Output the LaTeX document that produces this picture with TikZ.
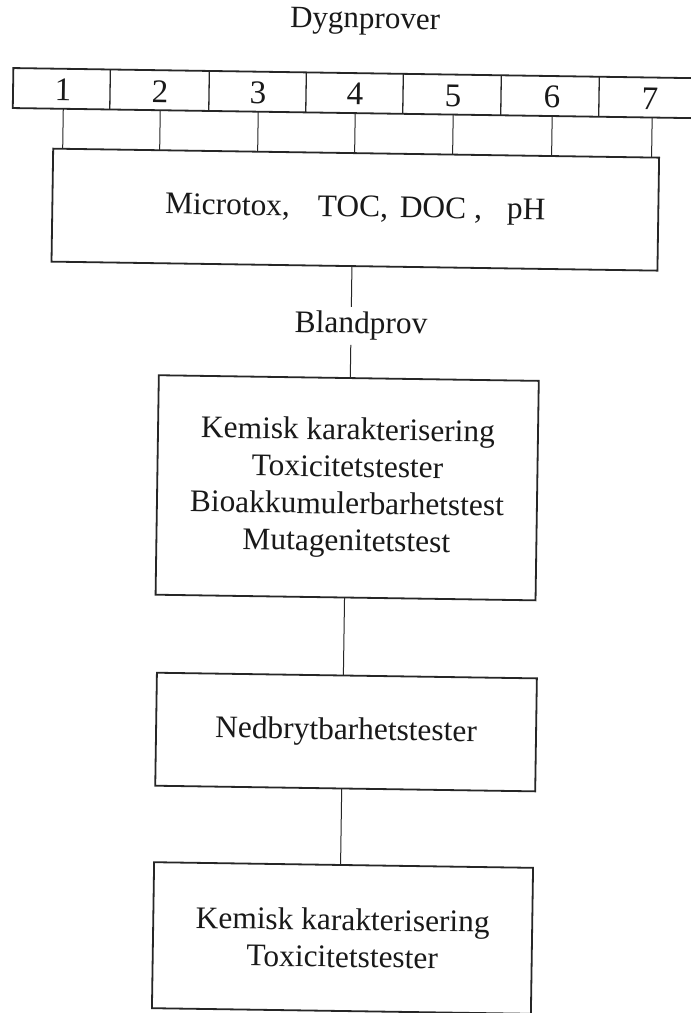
\documentclass[tikz,border=0pt]{standalone}
\usepackage{fontspec}
\setmainfont{Liberation Serif}
\usetikzlibrary{calc}
\begin{document}
\begin{tikzpicture}[x=1pt,y=-1pt,
  box/.style={draw=black!85, line width=1.8pt, inner sep=0pt, outer sep=0pt, align=center,
    text=black!90, font=\fontsize{31.4}{37}\selectfont},
  lbl/.style={text=black!90, font=\fontsize{31.4}{37}\selectfont, inner xsep=0pt,
    inner ysep=4.9pt, outer sep=0pt, text height=21.4pt, text depth=6.8pt},
  num/.style={text=black!90, font=\fontsize{33}{33}\selectfont, inner sep=0pt, anchor=base},
  stripline/.style={draw=black!85, line width=1.8pt},
  divline/.style={draw=black!85, line width=1.3pt},
  thinline/.style={draw=black!85, line width=1pt}]
\useasboundingbox (0,0) rectangle (691,1013);
\fill[white] (0,0) rectangle (691,1013);
\begin{scope}[rotate around={-0.85:(345,500)}, transform shape]
  % title
  \node[text=black!90, font=\fontsize{31}{31}\selectfont, inner sep=0pt, anchor=base] (title) at (358,28) {Dygnprover};
  % strip of daily samples
  \draw[stripline] (720,73) -- (7,73) -- (7,113) -- (720,113);
  \foreach \x in {104,203,300,397,495,593} \draw[divline] (\x,73) -- (\x,113);
  \node[num] (n1) at (57,105) {1};
  \node[num] (n2) at (154,105) {2};
  \node[num] (n3) at (252,105) {3};
  \node[num] (n4) at (349,105) {4};
  \node[num] (n5) at (447,105) {5};
  \node[num] (n6) at (546,105) {6};
  \node[num] (n7) at (644,105) {7};
  % boxes
  \node[box, minimum width=606pt, minimum height=113pt] (b1) at (351,209.5)
    {Microtox,\hspace{28pt}TOC,\hspace{12pt}DOC\hspace{8pt},\hspace{25pt}pH};
  \node[lbl] (bland) at (358.5,325.7) {Blandprov};
  \node[box, minimum width=380pt, minimum height=219.5pt] (b2) at (347,487.75)
    {Kemisk karakterisering\\Toxicitetstester\\Bioakkumulerbarhetstest\\Mutagenitetstest};
  \node[box, minimum width=380pt, minimum height=113pt] (b3) at (349.5,732)
    {Nedbrytbarhetstester};
  \node[box, minimum width=379pt, minimum height=146pt] (b4) at (349,938)
    {Kemisk karakterisering\\Toxicitetstester};
  % ticks from strip to first box
  \coordinate (s1) at (57.5,113);
  \coordinate (s2) at (154.5,113);
  \coordinate (s3) at (252.5,113);
  \coordinate (s4) at (349.5,113);
  \coordinate (s5) at (447.5,113);
  \coordinate (s6) at (546.5,113);
  \coordinate (s7) at (646.5,113);
  \draw[thinline] (s1) -- ($(b1.north west)!0.01568!(b1.north east)$);
  \draw[thinline] (s2) -- ($(b1.north west)!0.17574!(b1.north east)$);
  \draw[thinline] (s3) -- ($(b1.north west)!0.33746!(b1.north east)$);
  \draw[thinline] (s4) -- ($(b1.north west)!0.49752!(b1.north east)$);
  \draw[thinline] (s5) -- ($(b1.north west)!0.65924!(b1.north east)$);
  \draw[thinline] (s6) -- ($(b1.north west)!0.82261!(b1.north east)$);
  \draw[thinline] (s7) -- ($(b1.north west)!0.98762!(b1.north east)$);
  % connectors
  \draw[thinline] ($(b1.south west)!0.49587!(b1.south east)$) -- ($(bland.north west)!0.4246!(bland.north east)$);
  \draw[thinline] ($(bland.south west)!0.4246!(bland.south east)$) -- ($(b2.north west)!0.50395!(b2.north east)$);
  \draw[thinline] ($(b2.south west)!0.49737!(b2.south east)$) -- ($(b3.north west)!0.49079!(b3.north east)$);
  \draw[thinline] ($(b3.south west)!0.49079!(b3.south east)$) -- ($(b4.north west)!0.49208!(b4.north east)$);
\end{scope}
\end{tikzpicture}
\end{document}
